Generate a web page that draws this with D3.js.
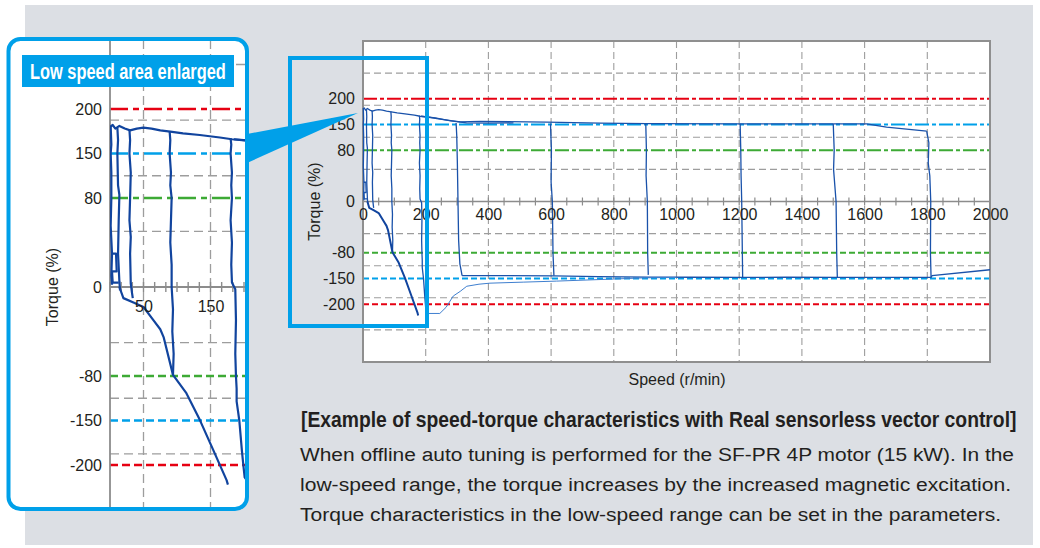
<!DOCTYPE html>
<html>
<head>
<meta charset="utf-8">
<script src="https://cdn.jsdelivr.net/npm/d3@7"></script>
<style>
  body { margin: 0; background: #fff; }
  svg { display: block; }
  text { font-family: "Liberation Sans", Arial, sans-serif; fill: #231f20; }
  .narrow { font-family: "Liberation Sans Narrow", "Arial Narrow", "Liberation Sans", sans-serif; font-weight: bold; }
</style>
</head>
<body>
<div id="chart"></div>
<script>
// ---- data (speed r/min, torque %) ----
const speedTicks = [0, 200, 400, 600, 800, 1000, 1200, 1400, 1600, 1800, 2000];
const torqueTicks = [200, 150, 80, 0, -80, -150, -200];
const insetSpeedTicks = [50, 150];
const refLevels = [200, 150, 80, -80, -150, -200];

// motoring torque limit (upper envelope)
const topEnvelope = [[0, 180], [4, 182], [8, 178], [14, 181], [22, 178], [30, 176], [40, 178], [50, 179],
  [62, 178], [75, 176], [90, 174.5], [109, 172.7], [134, 170.8], [164, 168], [182, 166], [205, 164.5],
  [262, 159], [310, 155], [373, 156], [586, 154.5], [756, 152.5], [905, 151.5], [1203, 151],
  [1500, 151], [1606, 151], [1670, 142.6], [1798, 132]];
const topEnvelope2 = [[185, 166], [230, 163], [280, 157], [330, 153], [400, 152.5], [480, 153]];

// low speed runs: drop from motoring to regenerating
const lowDrops = [
  [[1, 181], [2, 160], [1, 150], [2, 120], [2, 80], [1, 55], [3, 30], [2, 10], [3, 2]],
  [[11, 179], [12, 165], [11, 150], [12, 100], [14, 85], [13, 60], [12, 30], [14, 5], [15, -3]],
  [[2, 30], [9, 30], [10, 14], [3, 14], [4, 4], [13, 4]],
  [[29, 177], [30, 165], [29, 150], [31, 120], [30, 80], [29, 60], [31, 45], [30, 30], [31, 3], [33, -6], [34, -10]],
  [[89, 175], [90, 165], [89, 150], [91, 120], [90, 100], [92, 80], [91, 60], [90, 40], [92, 20],
   [92, 0], [94, -20], [93, -40], [95, -60], [94, -79]],
  [[180, 167], [181, 160], [180, 150], [182, 120], [181, 100], [182, 80], [180, 60], [182, 40],
   [181, 20], [182, 4], [187, -2], [188, -30], [187, -60], [188, -80], [189, -100], [189, -120],
   [191, -135], [193, -150], [197, -185], [199, -200], [201, -214], [205, -218]]
];
// regenerative torque limit at low speed
const lowerLimit = [[14, 0], [20, -10], [35, -14], [50, -18], [65, -30], [75, -38], [80, -45],
  [94, -79], [114, -107], [134, -149], [154, -183], [174, -217], [176, -222]];
// regenerating trace after the 200 r/min run
const regenTrace = [[205, -218], [245, -218], [265, -206], [288, -184], [310, -175], [331, -165],
  [370, -161], [405, -159], [511, -157], [618, -155], [798, -151], [900, -148], [1000, -147]];

// high speed runs
const highDrops = [
  [[297, 153], [299, 120], [301, 60], [303, 0], [305, -60], [309, -110], [313, -128], [316, -142]],
  [[598, 152], [601, 80], [600, 30], [604, 0], [606, -80], [609, -142]],
  [[902, 151.5], [904, 80], [903, 40], [907, 0], [908, -80], [910, -140]],
  [[1203, 151], [1205, 80], [1206, 40], [1208, 0], [1210, -80], [1211, -146]],
  [[1500, 151], [1503, 80], [1501, 50], [1509, 0], [1511, -80], [1513, -147]],
  [[1798, 132], [1805, 100], [1803, 60], [1808, 40], [1811, 0], [1810, -80], [1812, -147]]
];
const bottomEnvelope = [[316, -142], [450, -142], [609, -143], [750, -145], [910, -146], [1050, -146.5],
  [1211, -147], [1350, -146.5], [1513, -147], [1650, -147], [1812, -147], [1815, -142], [2000, -126]];

// the torque axis of the original is not linear between -150 and 150
const warpDomain = [-400, -150, -80, 0, 80, 150, 400];
const warpRange = [-400, -150, -100, 0, 100, 150, 400];

const RED = '#e60012', BLUE = '#00a0e9', GREEN = '#3daa35', NAVY = '#11449e';
const FONT = '"Liberation Sans", Arial, sans-serif';

function refColor(v) {
  const a = Math.abs(v);
  return a === 200 ? RED : a === 150 ? BLUE : GREEN;
}

// squeeze a bold text horizontally to a target width (condensed look)
function condense(sel, x, y, width) {
  sel.each(function () {
    const w = this.getComputedTextLength();
    const k = w > 0 ? width / w : 1;
    d3.select(this).attr('transform', `translate(${x},${y}) scale(${k.toFixed(4)},1)`);
  });
}

const svg = d3.select('#chart').append('svg')
  .attr('width', 1040)
  .attr('height', 548);

// grey panel
svg.append('rect')
  .attr('x', 25).attr('y', 5)
  .attr('width', 1008).attr('height', 540)
  .attr('fill', '#dcdfe4');

// ================= main chart =================
const mx = d3.scaleLinear().domain([0, 2000]).range([363, 990]);
const myLin = d3.scaleLinear().domain([-312.5, 312.5]).range([362, 41]);
const my = d3.scaleLinear().domain(warpDomain).range(warpRange.map(myLin));

const main = svg.append('g');

main.append('rect')
  .attr('x', mx(0)).attr('y', myLin(312.5))
  .attr('width', mx(2000) - mx(0)).attr('height', myLin(-312.5) - myLin(312.5))
  .attr('fill', '#fff');

// dashed grid
main.append('g').selectAll('line')
  .data(d3.range(-4, 5).filter(k => k !== 0))
  .join('line')
  .attr('x1', mx(0)).attr('x2', mx(2000))
  .attr('y1', k => myLin(k * 62.5)).attr('y2', k => myLin(k * 62.5))
  .attr('stroke', '#9d9d9d').attr('stroke-width', 1.1).attr('stroke-dasharray', '7,4');
main.append('g').selectAll('line')
  .data(speedTicks.slice(1, -1))
  .join('line')
  .attr('x1', d => mx(d)).attr('x2', d => mx(d))
  .attr('y1', myLin(312.5)).attr('y2', myLin(-312.5))
  .attr('stroke', '#9d9d9d').attr('stroke-width', 1.1).attr('stroke-dasharray', '7,4');

// reference torque levels
main.append('g').selectAll('line')
  .data(refLevels)
  .join('line')
  .attr('x1', mx(0)).attr('x2', mx(2000))
  .attr('y1', d => my(d)).attr('y2', d => my(d))
  .attr('stroke', d => refColor(d))
  .attr('stroke-width', 2)
  .attr('stroke-dasharray', d => d > 0 ? '14,3,4,3' : '6,3');

// zero axis with minor ticks
main.append('line')
  .attr('x1', mx(0)).attr('x2', mx(2000))
  .attr('y1', my(0)).attr('y2', my(0))
  .attr('stroke', '#8c8c8c').attr('stroke-width', 1.5);
main.append('g').selectAll('line')
  .data(d3.range(0, 2001, 50))
  .join('line')
  .attr('x1', d => mx(d)).attr('x2', d => mx(d))
  .attr('y1', my(0) - 4).attr('y2', my(0) + 4)
  .attr('stroke', '#8c8c8c').attr('stroke-width', 1.2);

// frame
main.append('rect')
  .attr('x', mx(0)).attr('y', myLin(312.5))
  .attr('width', mx(2000) - mx(0)).attr('height', myLin(-312.5) - myLin(312.5))
  .attr('fill', 'none').attr('stroke', '#8f8f8f').attr('stroke-width', 2);

// curves
const mLine = d3.line().x(d => mx(d[0])).y(d => my(d[1]));
const mainCurves = main.append('g')
  .attr('fill', 'none')
  .attr('stroke-linejoin', 'round');
mainCurves.selectAll('path.c')
  .data([topEnvelope, topEnvelope2, ...lowDrops, ...highDrops, bottomEnvelope])
  .join('path')
  .attr('class', 'c')
  .attr('d', mLine)
  .attr('stroke', '#1a52aa').attr('stroke-width', 1.3);
mainCurves.append('path')
  .attr('d', mLine(lowerLimit))
  .attr('stroke', NAVY).attr('stroke-width', 2);
mainCurves.append('path')
  .attr('d', mLine(regenTrace))
  .attr('stroke', '#3f7fcf').attr('stroke-width', 1);

// axes labels
const plain = d => String(d);
const mxAxis = main.append('g')
  .attr('transform', `translate(0,${my(0)})`)
  .call(d3.axisBottom(mx).tickValues(speedTicks).tickFormat(plain).tickSize(0).tickPadding(7));
const myAxis = main.append('g')
  .attr('transform', `translate(${mx(0)},0)`)
  .call(d3.axisLeft(my).tickValues(torqueTicks).tickFormat(plain).tickSize(0).tickPadding(8));
[mxAxis, myAxis].forEach(a => {
  a.select('.domain').remove();
  a.selectAll('text').style('font-size', '16px').style('font-family', FONT).attr('fill', '#231f20');
});

main.append('text')
  .attr('x', 677).attr('y', 385)
  .attr('text-anchor', 'middle')
  .style('font-size', '16px')
  .text('Speed (r/min)');
main.append('text')
  .attr('transform', `translate(320,${my(0)}) rotate(-90)`)
  .attr('text-anchor', 'middle')
  .style('font-size', '16px')
  .text('Torque (%)');

// highlighted low speed region
main.append('rect')
  .attr('x', 290).attr('y', 58)
  .attr('width', 137).attr('height', 268)
  .attr('fill', 'none')
  .attr('stroke', BLUE).attr('stroke-width', 4);

// ================= inset =================
const ix = d3.scaleLinear().domain([0, 200]).range([110, 244]);
const iyLin = d3.scaleLinear().domain([-200, 200]).range([465, 109]);
const iy = d3.scaleLinear().domain(warpDomain).range(warpRange.map(iyLin));
const inTop = 40, inBottom = 508, inRight = 247;

const inset = svg.append('g');
inset.append('rect')
  .attr('x', 8.5).attr('y', inTop - 1)
  .attr('width', inRight - 8.5).attr('height', inBottom - inTop + 2)
  .attr('rx', 12)
  .attr('fill', '#fff');

svg.append('clipPath').attr('id', 'inclip')
  .append('rect')
  .attr('x', ix(0)).attr('y', inTop)
  .attr('width', inRight - ix(0)).attr('height', inBottom - inTop);

inset.append('g').selectAll('line')
  .data(d3.range(-3, 5).filter(k => k !== 0))
  .join('line')
  .attr('x1', ix(0)).attr('x2', inRight)
  .attr('y1', k => iyLin(k * 62.5)).attr('y2', k => iyLin(k * 62.5))
  .attr('stroke', '#9d9d9d').attr('stroke-width', 1.3).attr('stroke-dasharray', '9,5');
inset.append('g').selectAll('line')
  .data(insetSpeedTicks)
  .join('line')
  .attr('x1', d => ix(d)).attr('x2', d => ix(d))
  .attr('y1', inTop).attr('y2', inBottom)
  .attr('stroke', '#9d9d9d').attr('stroke-width', 1.3).attr('stroke-dasharray', '9,5');

inset.append('g').selectAll('line')
  .data(refLevels)
  .join('line')
  .attr('x1', ix(0)).attr('x2', inRight - 2)
  .attr('y1', d => iy(d)).attr('y2', d => iy(d))
  .attr('stroke', d => refColor(d))
  .attr('stroke-width', 2.4)
  .attr('stroke-dasharray', d => d > 0 ? '18,5,6,5' : '8,4');

// axes lines
inset.append('line')
  .attr('x1', ix(0)).attr('x2', ix(0))
  .attr('y1', inTop).attr('y2', inBottom)
  .attr('stroke', '#8c8c8c').attr('stroke-width', 1.8);
inset.append('line')
  .attr('x1', ix(0)).attr('x2', inRight)
  .attr('y1', iy(0)).attr('y2', iy(0))
  .attr('stroke', '#8c8c8c').attr('stroke-width', 1.8);
inset.append('g').selectAll('line')
  .data(d3.range(0, 201, 100 / 6))
  .join('line')
  .attr('x1', d => ix(d)).attr('x2', d => ix(d))
  .attr('y1', iy(0) - 5).attr('y2', iy(0) + 5)
  .attr('stroke', '#8c8c8c').attr('stroke-width', 1.4);

const iLine = d3.line().x(d => ix(d[0])).y(d => iy(d[1]));
inset.append('g')
  .attr('clip-path', 'url(#inclip)')
  .attr('fill', 'none')
  .attr('stroke', NAVY)
  .attr('stroke-width', 2.2)
  .attr('stroke-linejoin', 'round')
  .selectAll('path')
  .data([topEnvelope, topEnvelope2, ...lowDrops, lowerLimit, regenTrace])
  .join('path')
  .attr('d', iLine);

const ixAxis = inset.append('g')
  .attr('transform', `translate(0,${iy(0)})`)
  .call(d3.axisBottom(ix).tickValues(insetSpeedTicks).tickFormat(plain).tickSize(0).tickPadding(14));
const iyAxis = inset.append('g')
  .attr('transform', `translate(${ix(0)},0)`)
  .call(d3.axisLeft(iy).tickValues(torqueTicks).tickFormat(plain).tickSize(0).tickPadding(8));
[ixAxis, iyAxis].forEach(a => {
  a.select('.domain').remove();
  a.selectAll('text').style('font-size', '16px').style('font-family', FONT).attr('fill', '#231f20');
});

inset.append('text')
  .attr('transform', `translate(58,${iy(0)}) rotate(-90)`)
  .attr('text-anchor', 'middle')
  .style('font-size', '16px')
  .text('Torque (%)');

// title label
inset.append('rect')
  .attr('x', 22).attr('y', 55)
  .attr('width', 212).attr('height', 32)
  .attr('fill', BLUE);
inset.append('text')
  .attr('class', 'narrow')
  .style('font-size', '22px')
  .style('fill', '#fff')
  .text('Low speed area enlarged')
  .call(condense, 30, 79, 196);

// border
inset.append('rect')
  .attr('x', 8.5).attr('y', inTop - 1)
  .attr('width', inRight - 8.5).attr('height', inBottom - inTop + 2)
  .attr('rx', 12)
  .attr('fill', 'none')
  .attr('stroke', BLUE).attr('stroke-width', 4);

// callout pointer from the inset to the origin of the main chart
svg.append('path')
  .attr('d', `M${inRight},134 L358,113 L${inRight},163 Z`)
  .attr('fill', BLUE);

// ================= caption =================
svg.append('text')
  .attr('class', 'narrow')
  .style('font-size', '21.5px')
  .text('[Example of speed-torque characteristics with Real sensorless vector control]')
  .call(condense, 301, 427, 716);

const captionLines = [
  'When offline auto tuning is performed for the SF-PR 4P motor (15 kW). In the',
  'low-speed range, the torque increases by the increased magnetic excitation.',
  'Torque characteristics in the low-speed range can be set in the parameters.'
];
svg.append('g').selectAll('text')
  .data(captionLines)
  .join('text')
  .attr('x', 300)
  .attr('y', (d, i) => 461 + i * 30)
  .attr('textLength', (d, i) => [714, 711, 701][i])
  .attr('lengthAdjust', 'spacingAndGlyphs')
  .style('font-size', '18px')
  .text(d => d);
</script>
</body>
</html>
